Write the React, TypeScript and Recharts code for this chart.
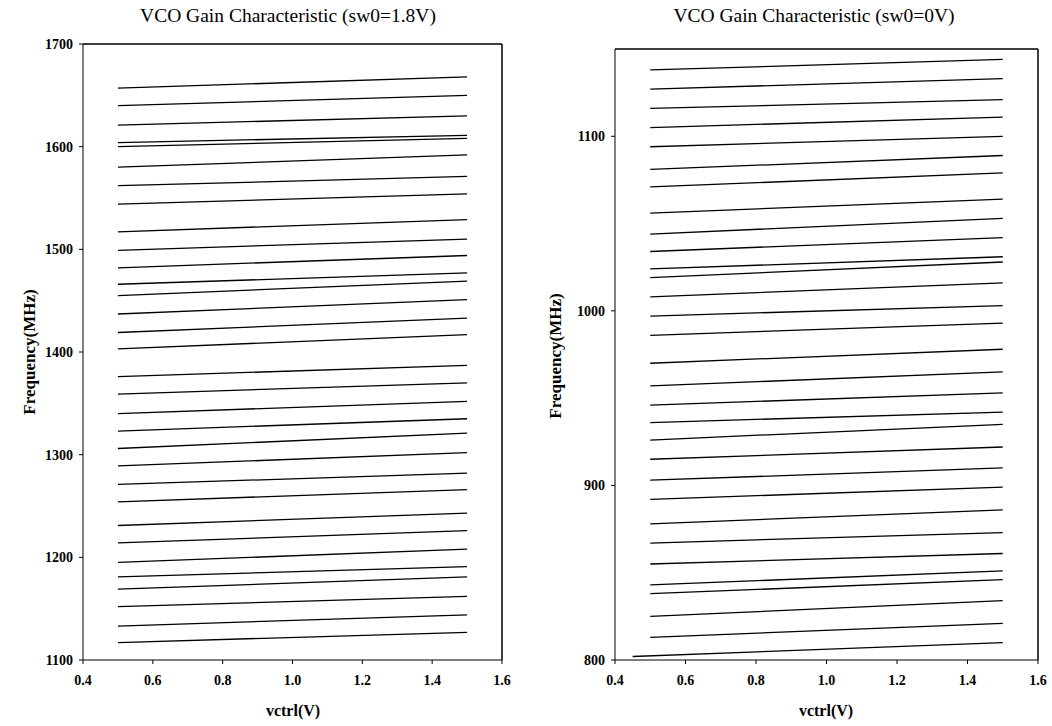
import { LineChart, Line, XAxis, YAxis, ReferenceLine } from "recharts";

// vctrl sweep end points (V)
const VCTRL = [0.5, 1.5];

// sw0 = 1.8V : frequency (MHz) at vctrl = 0.5 and 1.5 for each band
const HI_START = [
  1657, 1640, 1621, 1604, 1600, 1580, 1562, 1544, 1517, 1499, 1482, 1466,
  1455, 1437, 1419, 1403, 1376, 1359, 1340, 1323, 1306, 1289, 1271, 1254,
  1231, 1214, 1195, 1181, 1169, 1152, 1133, 1117,
];
const HI_END = [
  1668, 1650, 1630, 1611, 1608, 1592, 1571, 1554, 1529, 1510, 1494, 1477,
  1469, 1451, 1433, 1417, 1387, 1370, 1352, 1335, 1321, 1302, 1282, 1266,
  1243, 1226, 1208, 1191, 1181, 1162, 1144, 1127,
];

// sw0 = 0V
const LO_START = [
  1138, 1127, 1116, 1105, 1094, 1081, 1071, 1056, 1044, 1034, 1024, 1019,
  1008, 997, 986, 970, 957, 946, 936, 926, 915, 903, 892, 878, 867, 855,
  843, 838, 825, 813, 802,
];
const LO_END = [
  1144, 1133, 1121, 1111, 1100, 1089, 1079, 1064, 1053, 1042, 1031, 1028,
  1016, 1003, 993, 978, 965, 953, 942, 935, 922, 910, 899, 886, 873, 861,
  851, 846, 834, 821, 810,
];
// lowest sw0=0V band starts a little earlier
const LO_LAST_V0 = 0.45;

const X_TICKS = [0.4, 0.6, 0.8, 1.0, 1.2, 1.4, 1.6];
const HI_TICKS = [1100, 1200, 1300, 1400, 1500, 1600, 1700];
const LO_TICKS = [800, 900, 1000, 1100];

const FONT = "'Liberation Serif', 'Times New Roman', serif";
const tickStyle = { fill: "#000", fontFamily: FONT, fontSize: 14, fontWeight: 700 };

function buildBands(starts: number[], ends: number[], firstV?: (i: number) => number) {
  return starts.map((s, i) => [
    { v: firstV ? firstV(i) : VCTRL[0], f: s },
    { v: VCTRL[1], f: ends[i] },
  ]);
}

const hiBands = buildBands(HI_START, HI_END);
const loBands = buildBands(LO_START, LO_END, (i) =>
  i === LO_START.length - 1 ? LO_LAST_V0 : VCTRL[0]
);

interface PanelProps {
  bands: { v: number; f: number }[][];
  yDomain: [number, number];
  yTicks: number[];
  width: number;
  margin: { top: number; right: number; bottom: number; left: number };
  yWidth: number;
}

function Panel({ bands, yDomain, yTicks, width, margin, yWidth }: PanelProps) {
  return (
    <LineChart width={width} height={726} margin={margin}>
      <XAxis
        dataKey="v"
        type="number"
        domain={[0.4, 1.6]}
        ticks={X_TICKS}
        tickFormatter={(v: number) => v.toFixed(1)}
        allowDataOverflow
        height={62}
        tickSize={4}
        tickMargin={11}
        stroke="#000"
        tick={tickStyle}
      />
      <YAxis
        dataKey="f"
        type="number"
        domain={yDomain}
        ticks={yTicks}
        interval={0}
        allowDataOverflow
        width={yWidth}
        tickSize={4}
        tickMargin={6}
        stroke="#000"
        tick={tickStyle}
      />
      <ReferenceLine y={yDomain[1]} stroke="#000" strokeWidth={1.5} />
      <ReferenceLine x={1.6} stroke="#000" strokeWidth={1.5} />
      {bands.map((d, i) => (
        <Line
          key={i}
          data={d}
          dataKey="f"
          stroke="#000"
          strokeWidth={1.3}
          dot={false}
          isAnimationActive={false}
        />
      ))}
    </LineChart>
  );
}

const titleStyle: React.CSSProperties = {
  position: "absolute",
  top: 5,
  fontFamily: FONT,
  fontSize: 19.5,
  color: "#000",
  transform: "translateX(-50%)",
  whiteSpace: "nowrap",
};

const axisTitle: React.CSSProperties = {
  position: "absolute",
  fontFamily: FONT,
  fontSize: 16,
  fontWeight: 700,
  color: "#000",
  whiteSpace: "nowrap",
};

export default function App() {
  return (
    <div
      style={{
        position: "absolute",
        left: 0,
        top: 0,
        width: 1052,
        height: 726,
        background: "#fff",
        overflow: "hidden",
      }}
    >
      <div style={{ position: "absolute", left: 0, top: 0 }}>
        <Panel
          bands={hiBands}
          yDomain={[1100, 1700]}
          yTicks={HI_TICKS}
          width={530}
          margin={{ top: 44, right: 28, bottom: 4, left: 0 }}
          yWidth={83}
        />
      </div>
      <div style={{ position: "absolute", left: 530, top: 0 }}>
        <Panel
          bands={loBands}
          yDomain={[800, 1150]}
          yTicks={LO_TICKS}
          width={522}
          margin={{ top: 49, right: 14, bottom: 4, left: 0 }}
          yWidth={85}
        />
      </div>

      <div style={{ ...titleStyle, left: 288 }}>VCO Gain Characteristic (sw0=1.8V)</div>
      <div style={{ ...titleStyle, left: 814 }}>VCO Gain Characteristic (sw0=0V)</div>

      <div style={{ ...axisTitle, left: 293, top: 702, transform: "translateX(-50%)" }}>vctrl(V)</div>
      <div style={{ ...axisTitle, left: 826, top: 702, transform: "translateX(-50%)" }}>vctrl(V)</div>

      <div
        style={{
          ...axisTitle,
          fontSize: 17,
          left: 30,
          top: 352,
          transform: "translate(-50%, -50%) rotate(-90deg)",
        }}
      >
        Frequency(MHz)
      </div>
      <div
        style={{
          ...axisTitle,
          fontSize: 17,
          left: 556,
          top: 356,
          transform: "translate(-50%, -50%) rotate(-90deg)",
        }}
      >
        Frequency(MHz)
      </div>
    </div>
  );
}
